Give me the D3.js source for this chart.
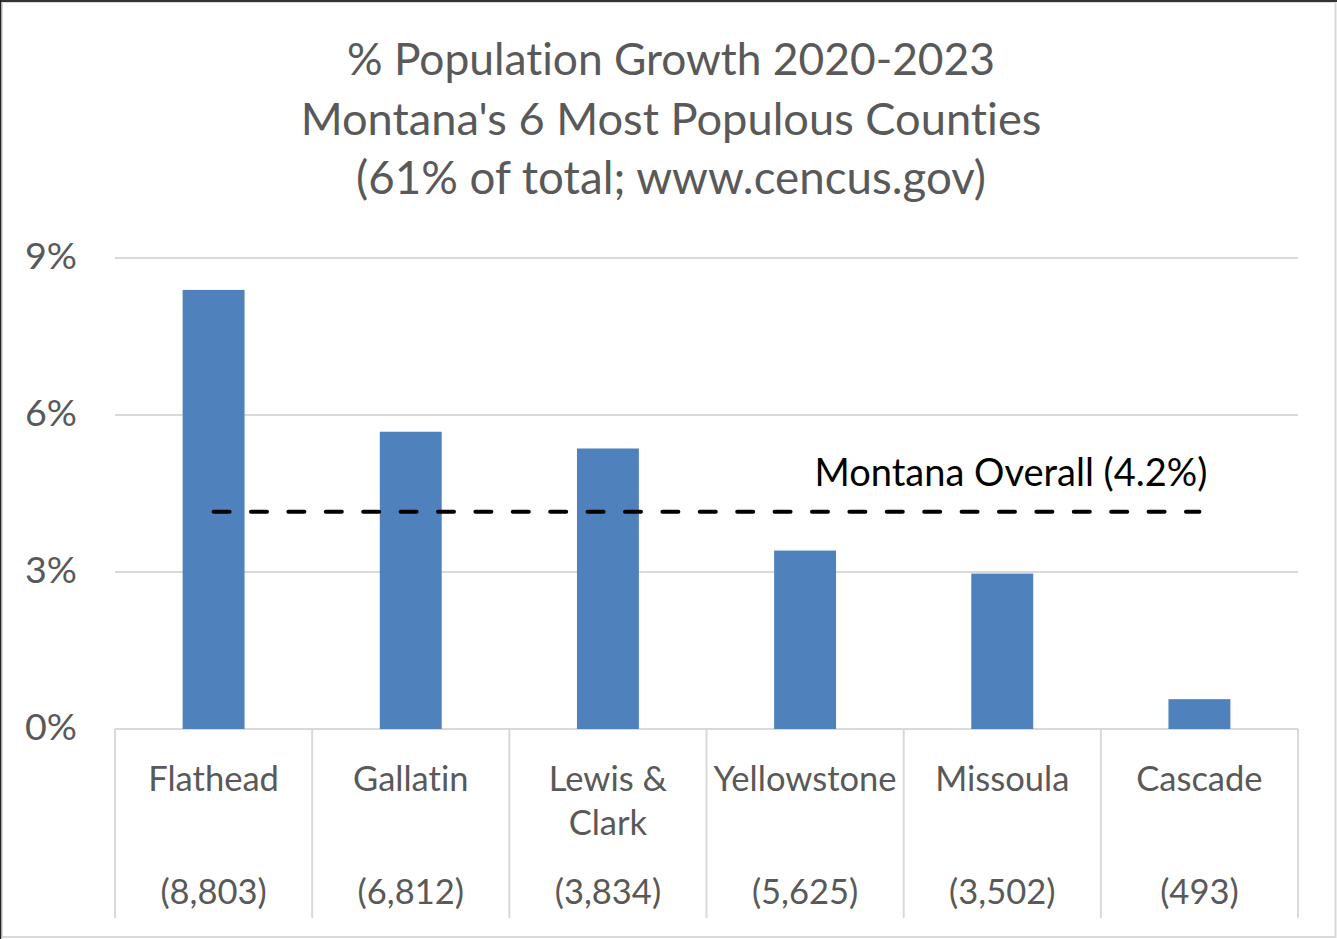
<!DOCTYPE html>
<html><head><meta charset="utf-8">
<script src="https://cdn.jsdelivr.net/npm/d3@7"></script>
<style>body{margin:0;background:#fff}svg{display:block}text{font-variant-ligatures:none;font-feature-settings:"liga" 0}</style>
</head><body>
<script>
const categories = [["Flathead"], ["Gallatin"], ["Lewis &", "Clark"], ["Yellowstone"], ["Missoula"], ["Cascade"]];
const counts = ["(8,803)", "(6,812)", "(3,834)", "(5,625)", "(3,502)", "(493)"];
const growth = [8.39, 5.68, 5.36, 3.41, 2.97, 0.57];
const overall = 4.15;
const overallLabel = "Montana Overall (4.2%)";
const yTicks = [0, 3, 6, 9];
const titleLines = ["% Population Growth 2020-2023", "Montana's 6 Most Populous Counties", "(61% of total; www.cencus.gov)"];

const W = 1337, H = 939;
const FONT = "Lato, 'Open Sans', sans-serif";
const GRAY = "#595959", GRID = "#d9d9d9";
const svg = d3.select("body").append("svg").attr("width", W).attr("height", H);

svg.append("rect").attr("x", 0).attr("y", 0).attr("width", W).attr("height", H).attr("fill", "#fff");
svg.append("rect").attr("x", 2).attr("y", 2).attr("width", W - 3.5).attr("height", H - 4)
  .attr("fill", "none").attr("stroke", GRID).attr("stroke-width", 2);
svg.append("line").attr("x1", 0).attr("x2", W).attr("y1", 1).attr("y2", 1).attr("stroke", "#333").attr("stroke-width", 2);
svg.append("line").attr("x1", 0.5).attr("x2", 0.5).attr("y1", 0).attr("y2", H).attr("stroke", "#222").attr("stroke-width", 1.5);

const x = d3.scaleBand().domain(d3.range(categories.length)).range([115, 1298])
  .paddingInner(0.686).paddingOuter(0.343);
const y = d3.scaleLinear().domain([0, 9]).range([729, 258]);
const step = x.step();

function fit(sel, target) {
  const w = sel.node().getComputedTextLength();
  const fs = parseFloat(sel.attr("font-size"));
  sel.attr("font-size", fs * target / w);
  return fs * target / w;
}

// Title
const tBase = [75, 135, 194];
const tWidth = [648, 741, 630];
titleLines.forEach((t, i) => {
  const s = svg.append("text").attr("x", 671).attr("y", tBase[i]).attr("text-anchor", "middle")
    .attr("font-family", FONT).attr("font-size", 40).attr("fill", GRAY).text(t);
  fit(s, tWidth[i]);
});

// Gridlines
const g = svg.append("g");
g.selectAll("line.grid").data(yTicks).join("line").attr("class", "grid")
  .attr("x1", 115).attr("x2", 1298).attr("y1", d => y(d)).attr("y2", d => y(d))
  .attr("stroke", GRID).attr("stroke-width", 2);

// Y axis labels
const probe = svg.append("text").attr("font-family", FONT).attr("font-size", 40).text("9%");
const yfs = fit(probe, 52); probe.remove();
g.selectAll("text.ytick").data(yTicks).join("text").attr("class", "ytick")
  .attr("x", 77).attr("y", d => y(d) + 11).attr("text-anchor", "end")
  .attr("font-family", FONT).attr("font-size", yfs).attr("fill", GRAY).text(d => d + "%");

// Category separators
const bounds = d3.range(categories.length + 1).map(i => 115 + i * step);
g.selectAll("line.sep").data(bounds).join("line").attr("class", "sep")
  .attr("x1", d => d).attr("x2", d => d).attr("y1", y(0)).attr("y2", 918)
  .attr("stroke", GRID).attr("stroke-width", 2);

// Bars
g.selectAll("rect.bar").data(growth).join("rect").attr("class", "bar")
  .attr("x", (d, i) => x(i)).attr("width", x.bandwidth())
  .attr("y", d => y(d)).attr("height", d => y(0) - y(d)).attr("fill", "#4f81bd");

// Category labels
const p2 = svg.append("text").attr("font-family", FONT).attr("font-size", 30).text("Yellowstone");
const cfs = fit(p2, 183); p2.remove();
categories.forEach((lines, i) => {
  const cx = x(i) + x.bandwidth() / 2;
  lines.forEach((l, j) => {
    svg.append("text").attr("x", cx).attr("y", 791 + j * 43.5).attr("text-anchor", "middle")
      .attr("font-family", FONT).attr("font-size", cfs).attr("fill", GRAY).text(l);
  });
  svg.append("text").attr("x", cx).attr("y", 904).attr("text-anchor", "middle")
    .attr("font-family", FONT).attr("font-size", cfs).attr("fill", GRAY).text(counts[i]);
});

// Overall dashed line
const xs = x(0) + x.bandwidth() / 2, xe = x(categories.length - 1) + x.bandwidth() / 2;
svg.append("line").attr("x1", xs).attr("x2", xe).attr("y1", y(overall)).attr("y2", y(overall))
  .attr("stroke", "#000").attr("stroke-width", 4).attr("stroke-linecap", "round")
  .attr("stroke-dasharray", "16 21.4");
const ol = svg.append("text").attr("x", xe + 8).attr("y", 486).attr("text-anchor", "end")
  .attr("font-family", FONT).attr("font-size", 34).attr("fill", "#000").text(overallLabel);
fit(ol, 393);
</script>
</body></html>
